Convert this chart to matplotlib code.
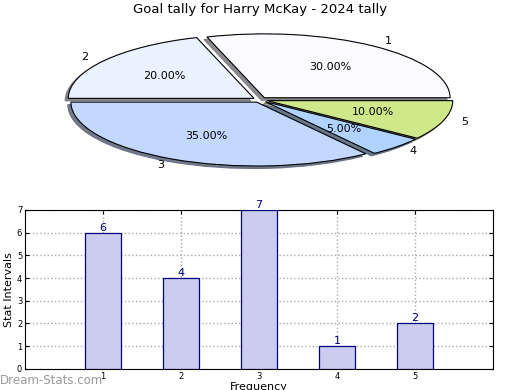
import matplotlib
matplotlib.use('Agg')
import matplotlib.pyplot as plt

# Datos
categorias = ['1', '2', '3', '4', '5']
valores = [6, 4, 7, 1, 2]
colores_pie = ['#fafaff', '#eaf1ff', '#c3d7ff', '#b1d3ff', '#cfe98a']

fig = plt.figure(figsize=(5.2, 3.9), dpi=100)

# Grafico circular (aplastado en elipse)
ax1 = fig.add_axes([0.025, 0.531, 0.95, 0.426])
ax1.pie(valores, labels=categorias, colors=colores_pie, autopct='%.2f%%',
        explode=[0.04] * len(valores),
        shadow={'ox': -0.012, 'oy': -0.028, 'shade': 0.5, 'alpha': 0.9},
        startangle=0, pctdistance=0.6, labeldistance=1.1,
        wedgeprops={'edgecolor': 'black', 'linewidth': 0.8},
        textprops={'fontsize': 8})
ax1.set_aspect('auto')
ax1.set_xlim(-1.33, 1.33)
ax1.set_ylim(-1.3, 1.3)
ax1.axis('off')

fig.text(0.5, 0.975, 'Goal tally for Harry McKay - 2024 tally', ha='center', va='center', fontsize=9.5)

# Grafico de barras
ax2 = fig.add_axes([0.048, 0.054, 0.900, 0.408])
x = [int(c) for c in categorias]
ax2.bar(x, valores, width=0.46, color='#ccccee', edgecolor='#000080', linewidth=0.9, zorder=3)
for xi, v in zip(x, valores):
    ax2.text(xi, v, str(v), ha='center', va='bottom', color='#000080', fontsize=8, zorder=4)

ax2.set_xlim(0, 6)
ax2.set_ylim(0, 7)
ax2.set_xticks(x)
ax2.set_yticks(range(8))
ax2.tick_params(labelsize=6, direction='in', length=3, top=True, right=True, pad=2)
ax2.grid(True, linestyle=':', color='#aaaaaa', linewidth=1, zorder=0)
ax2.set_ylabel('Stat Intervals', fontsize=8, labelpad=2)
ax2.set_xlabel('Frequency', fontsize=8, labelpad=1)

fig.text(0.0, 0.025, 'Dream-Stats.com', ha='left', va='center', fontsize=8.5,
         color='#999999')

plt.savefig('out.png', dpi=100)
plt.close()
